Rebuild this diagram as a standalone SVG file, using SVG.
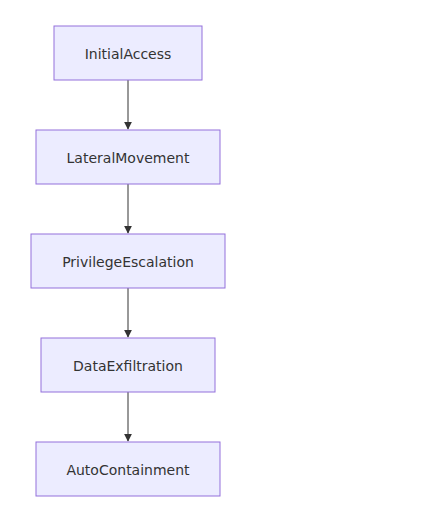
<svg xmlns="http://www.w3.org/2000/svg" width="428" height="517" viewBox="0 0 428 517">
<style>
.node rect{fill:#ECECFF;stroke:#9370DB;stroke-width:1px}
.node text{font-family:"DejaVu Sans","Open Sans",sans-serif;font-size:14px;fill:#333;text-anchor:middle;dominant-baseline:central}
.edge{stroke:#333;stroke-width:1px;fill:none}
</style>
<defs>
<marker id="arrow" viewBox="0 0 10 10" refX="9" refY="5" markerWidth="8" markerHeight="8" markerUnits="userSpaceOnUse" orient="auto">
<path d="M0,0 L10,5 L0,10 z" fill="#333"/>
</marker>
</defs>
<rect width="428" height="517" fill="#fff"/>
<g id="connectors">
<line class="edge" x1="128" y1="80" x2="128" y2="129" marker-end="url(#arrow)"/>
<line class="edge" x1="128" y1="184" x2="128" y2="233" marker-end="url(#arrow)"/>
<line class="edge" x1="128" y1="288" x2="128" y2="337" marker-end="url(#arrow)"/>
<line class="edge" x1="128" y1="392" x2="128" y2="441" marker-end="url(#arrow)"/>
</g>
<g id="InitialAccess" class="node"><rect x="54" y="26" width="148" height="54"/><text x="128" y="54">InitialAccess</text></g>
<g id="LateralMovement" class="node"><rect x="36" y="130" width="184" height="54"/><text x="128" y="158">LateralMovement</text></g>
<g id="PrivilegeEscalation" class="node"><rect x="31" y="234" width="194" height="54"/><text x="128" y="262">PrivilegeEscalation</text></g>
<g id="DataExfiltration" class="node"><rect x="41" y="338" width="174" height="54"/><text x="128" y="366">DataExfiltration</text></g>
<g id="AutoContainment" class="node"><rect x="36" y="442" width="184" height="54"/><text x="128" y="470">AutoContainment</text></g>
</svg>
